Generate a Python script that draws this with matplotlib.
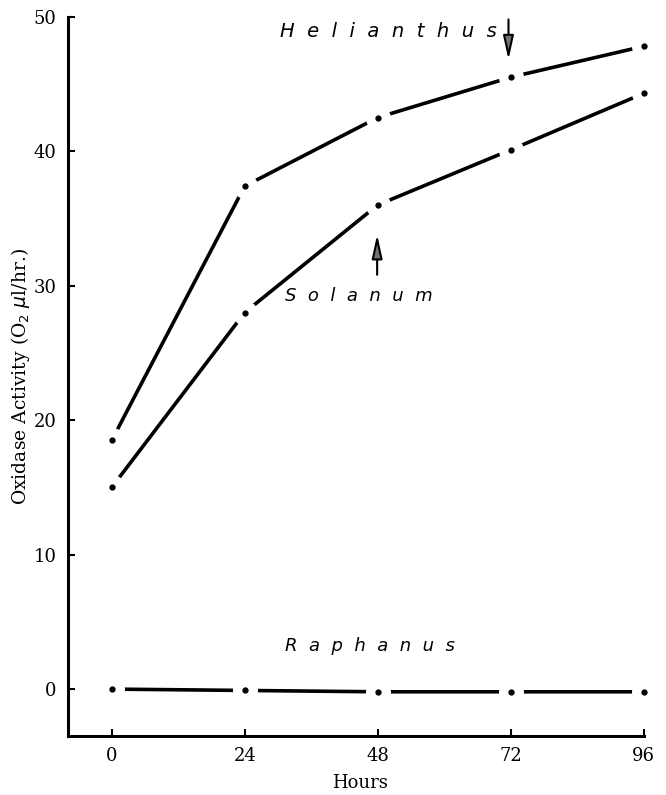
import numpy as np
import matplotlib.pyplot as plt

# data
hours = [0, 24, 48, 72, 96]
helianthus = [18.5, 37.4, 42.5, 45.5, 47.8]
solanum = [15.0, 28.0, 36.0, 40.1, 44.3]
raphanus = [0.0, -0.1, -0.2, -0.2, -0.2]

xticks = [0, 24, 48, 72, 96]
yticks = [0, 10, 20, 30, 40, 50]

plt.rcParams['font.family'] = ['DejaVu Serif']

fig = plt.figure(figsize=(6.66, 7.95), dpi=100)
ax = fig.add_axes([0.102, 0.074, 0.877, 0.905])

for series in (helianthus, solanum, raphanus):
    ax.plot(hours, series, color='black', lw=2.6, solid_capstyle='butt', zorder=2)
    # white disc makes the gap round each point, small dot on top
    ax.plot(hours, series, ls='none', marker='o', ms=17, mfc='white', mec='white', zorder=3)
    ax.plot(hours, series, ls='none', marker='o', ms=3.5, mfc='black', mec='black', zorder=4)

# labels, letter spaced italic sans
def spaced(s):
    return '  '.join(s)

ax.text(30.4, 48.9, spaced('Helianthus'), ha='left', va='center', style='italic',
        family='DejaVu Sans', fontsize=14)
ax.text(31.2, 29.2, spaced('Solanum'), ha='left', va='center', style='italic',
        family='DejaVu Sans', fontsize=13)
ax.text(31.2, 3.2, spaced('Raphanus'), ha='left', va='center', style='italic',
        family='DejaVu Sans', fontsize=13)

# arrows marking the points
ax.annotate('', xy=(71.6, 46.6), xytext=(71.6, 50.0),
            arrowprops=dict(arrowstyle='-|>,head_width=0.2,head_length=0.9', color='black',
                            lw=1.5, mutation_scale=16, fc='0.45'))
ax.annotate('', xy=(47.9, 34.0), xytext=(47.9, 30.6),
            arrowprops=dict(arrowstyle='-|>,head_width=0.2,head_length=0.9', color='black',
                            lw=1.5, mutation_scale=16, fc='0.45'))

ax.set_xlim(-7.9, 97.5)
ax.set_ylim(-3.5, 50)
ax.set_xticks(xticks)
ax.set_yticks(yticks)
ax.tick_params(direction='in', length=5, width=1.5, labelsize=13, pad=8)
ax.spines['top'].set_visible(False)
ax.spines['right'].set_visible(False)
ax.spines['left'].set_linewidth(2.2)
ax.spines['bottom'].set_linewidth(2.2)
ax.spines['left'].set_bounds(-3.5, 50)
ax.spines['bottom'].set_bounds(-7.9, 96)

ax.set_xlabel('Hours', fontsize=13, labelpad=6)
ax.set_ylabel(r'Oxidase Activity (O$_2$ $\mu$l/hr.)', fontsize=13.5, labelpad=1)

fig.savefig('out.png', dpi=100)
